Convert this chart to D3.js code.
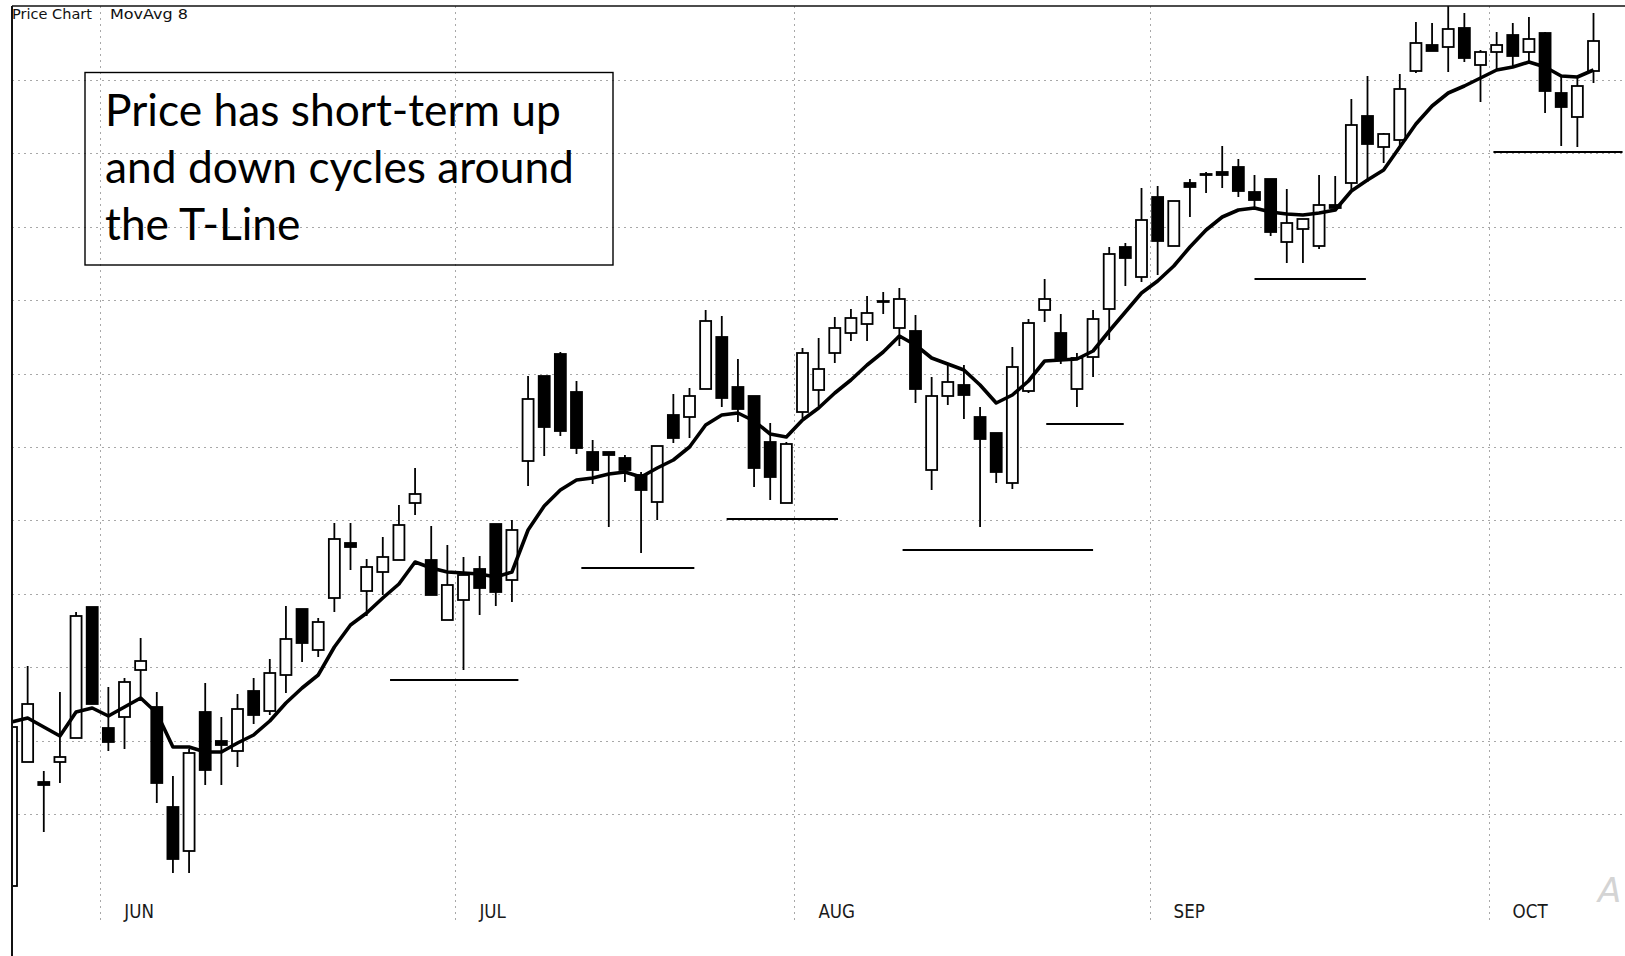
<!DOCTYPE html>
<html><head><meta charset="utf-8">
<script src="https://cdn.jsdelivr.net/npm/d3@7"></script>
<style>html,body{margin:0;padding:0;background:#fff;overflow:hidden}</style>
</head><body><svg id="c" width="1625" height="956"></svg>
<script>
// ---------- data (prices in arbitrary chart units) ----------
const opens = [
11.4,23.8,21.8,23.8,26.2,39.3,27.2,28.3,33.0,29.3,
19.3,14.9,28.8,25.9,24.9,30.9,28.9,32.5,39.1,35.0,
40.2,45.7,40.9,42.8,44.0,49.7,44.0,38.0,40.0,43.1,
47.6,42.0,53.9,62.4,64.6,60.8,54.8,54.8,54.2,52.5,
49.8,58.5,58.3,61.1,66.3,61.3,60.4,55.8,49.7,58.8,
61.0,64.7,66.7,67.6,69.8,67.2,66.9,53.0,60.4,61.5,
58.3,56.7,51.7,60.9,69.0,66.7,61.1,64.3,69.1,75.3,
72.3,80.3,75.4,81.7,82.5,82.8,83.3,80.8,82.1,75.8,
77.1,75.4,79.5,81.7,88.4,85.3,86.0,92.9,95.5,95.3,
97.2,93.5,94.8,96.5,94.8,96.7,90.7,88.3,92.9];
const highs = [
30.7,33.4,22.9,30.8,38.8,39.3,31.3,32.2,36.2,30.8,
22.4,25.1,31.7,28.3,30.6,32.2,34.1,39.4,39.1,38.2,
47.7,47.7,44.1,46.3,49.5,53.2,47.4,45.5,44.3,44.4,
47.6,48.0,62.4,62.4,64.8,61.9,56.0,54.8,54.5,52.8,
55.4,60.6,61.2,69.0,68.4,64.1,60.4,57.7,55.8,65.2,
66.2,68.3,69.1,70.4,70.8,71.2,68.5,62.3,63.5,63.5,
59.3,56.7,65.3,68.1,72.1,68.6,64.7,69.0,75.3,75.7,
81.2,81.4,79.9,82.1,82.8,85.4,84.1,82.5,82.1,81.1,
78.1,82.5,82.4,90.1,92.4,86.7,92.6,97.8,97.7,99.4,
98.7,95.0,96.8,97.7,98.3,96.8,92.4,92.4,98.7];
const lows = [
11.2,23.8,16.8,21.7,26.2,29.6,24.9,25.1,30.0,19.7,
12.7,12.7,21.5,21.5,23.3,27.6,28.5,30.7,33.8,34.3,
38.8,43.0,38.4,40.5,44.0,48.5,40.5,38.0,33.0,38.5,
39.4,39.8,51.4,54.4,56.4,54.6,51.6,47.3,51.8,44.7,
48.0,55.7,56.2,61.1,59.3,57.8,51.3,50.0,49.7,58.2,
59.4,63.7,65.9,65.9,68.6,65.4,59.7,51.0,59.5,58.1,
47.3,51.7,51.1,60.7,67.8,63.6,59.3,62.3,66.0,71.4,
71.8,72.5,75.4,78.3,80.7,81.2,80.3,79.2,76.4,73.7,
73.7,75.1,78.9,80.8,81.8,83.7,85.2,92.7,94.9,92.8,
93.8,89.8,93.0,93.4,93.8,88.7,85.4,85.3,91.7];
const closes = [
27.3,29.6,21.5,24.3,38.4,29.6,25.8,31.8,33.9,21.7,
14.1,24.7,23.0,25.5,29.1,28.5,32.7,36.1,35.7,37.8,
46.1,45.3,43.3,44.3,47.5,50.6,40.5,41.5,42.5,41.2,
40.8,47.0,60.1,57.3,56.9,55.2,53.0,54.5,53.0,51.0,
55.4,56.2,60.4,67.9,60.2,59.1,53.2,52.3,55.6,64.7,
63.1,67.2,68.2,68.7,69.9,70.1,61.1,60.4,61.8,60.5,
56.1,52.8,63.3,67.7,70.1,64.0,64.2,68.1,74.6,74.2,
78.0,75.9,79.9,81.3,82.6,82.5,80.9,80.0,76.8,77.7,
78.1,79.5,79.2,87.5,85.6,86.6,91.1,95.7,94.9,97.1,
94.2,94.8,95.5,94.4,96.1,90.9,89.3,91.4,95.9];
const movAvg8 = [
27.8,28.2,27.3,26.4,28.8,29.2,28.4,29.3,30.2,28.7,
25.3,25.3,24.8,24.8,25.7,26.5,27.9,29.7,31.2,32.5,
35.3,37.5,38.7,40.2,41.6,43.8,43.2,42.8,42.7,42.6,
42.3,42.8,47.0,49.4,51.0,52.0,52.2,52.6,52.8,52.3,
53.2,54.0,55.3,57.5,58.5,58.7,57.9,56.6,56.3,58.0,
59.2,60.7,62.0,63.5,64.8,66.4,65.5,64.2,63.6,63.0,
61.5,59.7,60.5,61.9,63.9,64.0,64.1,64.9,66.9,68.8,
70.7,71.9,73.4,75.3,77.0,78.3,79.0,79.2,78.8,78.6,
78.5,78.7,79.0,80.9,82.0,83.0,85.3,87.6,89.4,90.7,
91.4,92.2,93.0,93.3,93.8,93.3,92.4,92.3,93.0];
const gridPrices = [92.00,84.66,77.32,69.98,62.64,55.30,47.96,40.62,33.28,25.94,18.60];
const months = ["JUN","JUL","AUG","SEP","OCT"];
const monthFirstBar = [6,28,49,71,92];
// support levels: bar range (start, end) and price
const supportStart = [23.45,35.3,44.3,55.2,64.1,77.0,91.8];
const supportEnd   = [31.4,42.3,51.2,67.0,68.9,83.9,99.8];
const supportPrice = [32.0,43.2,48.1,45.0,57.6,72.1,84.8];
const noteLines = ["Price has short-term up","and down cycles around","the T-Line"];
const headerLeft = "Price Chart";
const headerRight = "MovAvg 8";

// ---------- drawing ----------
const W = 1625, H = 956;
const svg = d3.select("#c");
const plotL = 12, plotT = 6;

const x = d3.scaleLinear().domain([0, opens.length - 1]).range([11.5, 1593.5]);
const y = d3.scaleLinear().domain([0, 100]).range([1000, 0]);

svg.append("defs").append("clipPath").attr("id","plot")
  .append("rect").attr("x",plotL).attr("y",plotT).attr("width",W-plotL).attr("height",H-plotT);

const grid = svg.append("g");
grid.selectAll("line.h").data(gridPrices).join("line").attr("class","h")
  .attr("x1",plotL).attr("x2",W).attr("y1",d=>Math.round(y(d))+0.5).attr("y2",d=>Math.round(y(d))+0.5)
  .attr("stroke","#a8a8a8").attr("stroke-width",1).attr("stroke-dasharray","2,4");
grid.selectAll("line.v").data(monthFirstBar).join("line").attr("class","v")
  .attr("x1",d=>Math.round(x(d-0.5))+0.5).attr("x2",d=>Math.round(x(d-0.5))+0.5)
  .attr("y1",plotT).attr("y2",921)
  .attr("stroke","#a8a8a8").attr("stroke-width",1).attr("stroke-dasharray","2,4");

// month labels
const ml = svg.append("g").selectAll("text").data(months).join("text")
  .attr("x",(d,i)=>x(monthFirstBar[i]-0.5)+24).attr("y",918)
  .attr("font-family","DejaVu Sans, sans-serif").attr("font-size",19).attr("fill","#1a1a1a")
  .text(d=>d);
ml.each(function(){ const w=this.getComputedTextLength(); d3.select(this).attr("textLength",w*0.88).attr("lengthAdjust","spacingAndGlyphs"); });

// header
svg.append("text").attr("x",12).attr("y",19).attr("font-family","DejaVu Sans, sans-serif")
  .attr("font-size",14).attr("fill","#111").attr("textLength",80).attr("lengthAdjust","spacingAndGlyphs").text(headerLeft);
svg.append("text").attr("x",110).attr("y",19).attr("font-family","DejaVu Sans, sans-serif")
  .attr("font-size",14).attr("fill","#111").attr("textLength",78).attr("lengthAdjust","spacingAndGlyphs").text(headerRight);

// watermark fragment
svg.append("text").attr("x",1598).attr("y",902).attr("font-family","DejaVu Sans, sans-serif")
  .attr("font-size",34).attr("fill","#d4d4d4").attr("font-style","italic").text("A");

const plot = svg.append("g").attr("clip-path","url(#plot)");
const bw = 11;
const idx = d3.range(opens.length);
const candles = plot.selectAll("g.c").data(idx).join("g").attr("class","c");
candles.append("line")
  .attr("x1",i=>x(i)).attr("x2",i=>x(i))
  .attr("y1",i=>y(highs[i])).attr("y2",i=>y(lows[i]))
  .attr("stroke","#000").attr("stroke-width",1.8);
candles.append("rect")
  .attr("x",i=>x(i)-bw/2).attr("width",bw)
  .attr("y",i=>y(Math.max(opens[i],closes[i])))
  .attr("height",i=>Math.max(0.5, Math.abs(y(opens[i])-y(closes[i]))))
  .attr("fill",i=>closes[i]>=opens[i] ? "#fff" : "#000")
  .attr("stroke","#000").attr("stroke-width",1.8);

// moving average
plot.append("path").datum(idx)
  .attr("d", d3.line().x(i=>x(i)).y(i=>y(movAvg8[i])))
  .attr("fill","none").attr("stroke","#000").attr("stroke-width",3.6).attr("stroke-linejoin","round");

// support lines
plot.selectAll("line.s").data(supportPrice).join("line").attr("class","s")
  .attr("x1",(d,i)=>x(supportStart[i])).attr("x2",(d,i)=>x(supportEnd[i]))
  .attr("y1",d=>y(d)).attr("y2",d=>y(d))
  .attr("stroke","#000").attr("stroke-width",2);

// frame
svg.append("line").attr("x1",plotL).attr("x2",W).attr("y1",plotT).attr("y2",plotT).attr("stroke","#111").attr("stroke-width",1.6);
svg.append("line").attr("x1",plotL).attr("x2",plotL).attr("y1",plotT).attr("y2",H).attr("stroke","#111").attr("stroke-width",2);

// note box
svg.append("rect").attr("x",85).attr("y",72.5).attr("width",528).attr("height",192.5)
  .attr("fill","none").attr("stroke","#000").attr("stroke-width",1.4);
const note = svg.append("g");
const probe = note.append("text").attr("font-family","Lato, sans-serif").attr("font-size",40).text(noteLines[0]);
const fs = 40 * 456 / probe.node().getComputedTextLength();
probe.remove();
note.selectAll("text").data(noteLines).join("text")
  .attr("x",105).attr("y",(d,i)=>126 + i*56.8)
  .attr("font-family","Lato, sans-serif").attr("font-size",fs).attr("fill","#000")
  .text(d=>d);
</script></body></html>
